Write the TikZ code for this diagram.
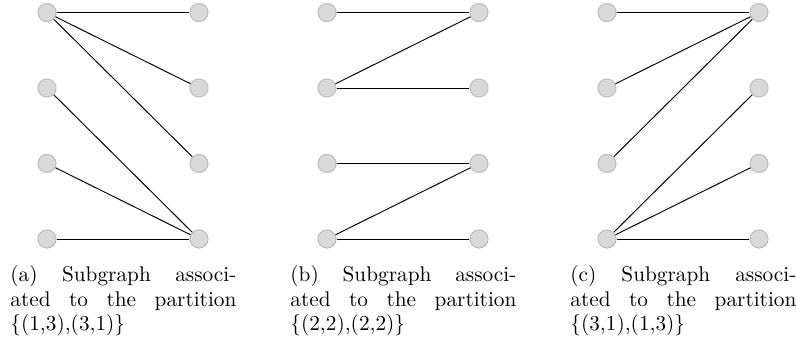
\documentclass[tikz,border=0pt]{standalone}
\definecolor{nodefill}{RGB}{217,217,217}
\definecolor{nodeborder}{RGB}{190,190,190}
\newlength\capw
\setlength\capw{106.2pt}
\begin{document}
\begin{tikzpicture}[x=0.47pt,y=-0.47pt,
  v/.style={circle, fill=nodefill, draw=nodeborder, line width=0.5pt, minimum size=8.5pt, inner sep=0pt},
  e/.style={line width=0.45pt, black},
  captext/.style={anchor=base west, inner sep=0pt, font=\fontsize{10}{12}\selectfont}]
\useasboundingbox (0,0) rectangle (796,347);
\foreach \p/\off in {a/0,b/280,c/560}{
  \foreach \i/\yy in {1/12.5,2/88,3/163.5,4/239}{
    \node[v] (\p L\i) at (47+\off,\yy) {};
    \node[v] (\p R\i) at (199+\off,\yy) {};
  }
}
% panel a
\draw[e] (aL1) -- (aR1);
\draw[e] (aL1) -- (aR2);
\draw[e] (aL1) -- (aR3);
\draw[e] (aL2) -- (aR4);
\draw[e] (aL3) -- (aR4);
\draw[e] (aL4) -- (aR4);
% panel b
\draw[e] (bL1) -- (bR1);
\draw[e] (bL2) -- (bR1);
\draw[e] (bL2) -- (bR2);
\draw[e] (bL3) -- (bR3);
\draw[e] (bL4) -- (bR3);
\draw[e] (bL4) -- (bR4);
% panel c
\draw[e] (cL1) -- (cR1);
\draw[e] (cL2) -- (cR1);
\draw[e] (cL3) -- (cR1);
\draw[e] (cL4) -- (cR2);
\draw[e] (cL4) -- (cR3);
\draw[e] (cL4) -- (cR4);
% captions
\node[captext] (capa1) at (10,281) {\hbox to \capw{(a)\hfill Subgraph\hfill associ-}};
\node[captext] (capa2) at (10,306) {\hbox to \capw{ated\hfill to\hfill the\hfill partition}};
\node[captext] (capa3) at (10,330) {\{(1,3),(3,1)\}};
\node[captext] (capb1) at (290,281) {\hbox to \capw{(b)\hfill Subgraph\hfill associ-}};
\node[captext] (capb2) at (290,306) {\hbox to \capw{ated\hfill to\hfill the\hfill partition}};
\node[captext] (capb3) at (290,330) {\{(2,2),(2,2)\}};
\node[captext] (capc1) at (570,281) {\hbox to \capw{(c)\hfill Subgraph\hfill associ-}};
\node[captext] (capc2) at (570,306) {\hbox to \capw{ated\hfill to\hfill the\hfill partition}};
\node[captext] (capc3) at (570,330) {\{(3,1),(1,3)\}};
\end{tikzpicture}
\end{document}
